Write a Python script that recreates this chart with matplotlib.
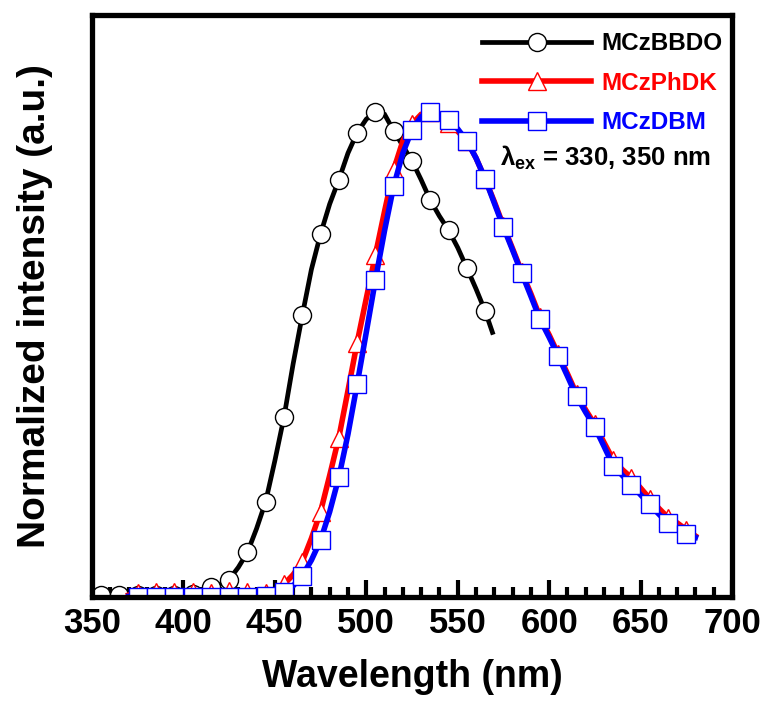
import numpy as np
import matplotlib
matplotlib.use("Agg")
import matplotlib.pyplot as plt

plt.rcParams['font.family'] = ['Liberation Sans', 'DejaVu Sans']
plt.rcParams['font.weight'] = 'bold'
plt.rcParams['mathtext.fontset'] = 'custom'
plt.rcParams['mathtext.rm'] = 'Liberation Sans:bold'
plt.rcParams['mathtext.bf'] = 'Liberation Sans:bold'
plt.rcParams['mathtext.default'] = 'bf'

# ---- data ----
labels = ["MCzBBDO", "MCzPhDK", "MCzDBM"]
colors = ["black", "red", "blue"]

bbdo_wl = [350, 355, 360, 365, 370, 375, 380, 385, 390, 395, 400, 405, 410, 415,
           420, 425, 430, 435, 440, 445, 450, 455, 460, 465, 470, 475, 480, 485,
           490, 495, 500, 505, 510, 515, 520, 525, 530, 535, 540, 545, 550, 555,
           560, 565, 569]
bbdo_int = [0.005, 0.004, 0.004, 0.004, 0.003, 0.003, 0.004, 0.003, 0.004, 0.003,
            0.005, 0.005, 0.010, 0.019, 0.025, 0.035, 0.060, 0.091, 0.140, 0.196,
            0.280, 0.370, 0.480, 0.580, 0.675, 0.748, 0.810, 0.860, 0.915, 0.957,
            0.985, 1.000, 0.995, 0.961, 0.930, 0.899, 0.860, 0.818, 0.785, 0.756,
            0.720, 0.678, 0.635, 0.589, 0.545]
bbdo_marks = [355, 365, 375, 385, 395, 405, 415, 425, 435, 445, 455, 465, 475,
              485, 495, 505, 515, 525, 535, 545, 555, 565]

dbm_wl = [370, 375, 380, 385, 390, 395, 400, 405, 410, 415, 420, 425, 430, 435,
          440, 445, 450, 455, 460, 465, 470, 475, 480, 485, 490, 495, 500, 505,
          510, 515, 520, 525, 530, 535, 540, 545, 550, 555, 560, 565, 570, 575,
          580, 585, 590, 595, 600, 605, 610, 615, 620, 625, 630, 635, 640, 645,
          650, 655, 660, 665, 670, 675, 680]
dbm_int = [0.000, 0.000, 0.000, 0.000, 0.000, 0.000, 0.000, -0.002, 0.000, 0.000,
           0.000, 0.000, 0.000, 0.000, 0.001, 0.002, 0.005, 0.010, 0.022, 0.043,
           0.075, 0.116, 0.175, 0.246, 0.335, 0.438, 0.545, 0.653, 0.755, 0.847,
           0.915, 0.963, 0.990, 1.000, 0.995, 0.983, 0.965, 0.940, 0.905, 0.862,
           0.812, 0.762, 0.715, 0.667, 0.620, 0.572, 0.535, 0.496, 0.455, 0.413,
           0.380, 0.349, 0.310, 0.270, 0.250, 0.231, 0.210, 0.190, 0.170, 0.151,
           0.140, 0.128, 0.122]

phdk_wl = dbm_wl
phdk_int = [0.003, 0.008, 0.002, 0.010, 0.003, 0.009, 0.002, 0.010, 0.003, 0.008,
            0.002, 0.011, 0.003, 0.009, 0.004, 0.008, 0.012, 0.025, 0.045, 0.072,
            0.120, 0.175, 0.250, 0.328, 0.425, 0.524, 0.615, 0.705, 0.795, 0.881,
            0.940, 0.975, 0.995, 1.000, 0.990, 0.978, 0.960, 0.940, 0.905, 0.862,
            0.815, 0.765, 0.718, 0.670, 0.625, 0.577, 0.540, 0.500, 0.460, 0.418,
            0.385, 0.355, 0.318, 0.282, 0.262, 0.245, 0.224, 0.202, 0.182, 0.163,
            0.152, 0.138, 0.125]

dbm_marks = list(range(375, 680, 10))
phdk_marks = dbm_marks

xticks = [350, 400, 450, 500, 550, 600, 650, 700]

# ---- figure ----
fig = plt.figure(figsize=(7.71, 7.04), dpi=100)
ax = fig.add_axes([0.1193, 0.152, 0.8301, 0.8267])

series = [
    (bbdo_wl, bbdo_int, bbdo_marks, 'o', 3.4),
    (phdk_wl, phdk_int, phdk_marks, '^', 4.0),
    (dbm_wl, dbm_int, dbm_marks, 's', 4.0),
]
for (wl, it, mk, m, lw), lab, c in zip(series, labels, colors):
    idx = [i for i, w in enumerate(wl) if w in mk]
    ax.plot(wl, it, color=c, lw=lw, marker=m, markevery=idx,
            markersize=13, markerfacecolor='white', markeredgecolor=c,
            markeredgewidth=1.0, label=lab, solid_joinstyle='miter')

ax.set_xlim(350, 700)
ax.set_ylim(-0.001, 1.20)
ax.set_xticks(xticks)
ax.set_xticks(np.arange(350, 701, 10), minor=True)
ax.set_yticks([])
ax.tick_params(axis='x', which='major', direction='in', length=12, width=3,
               labelsize=25, pad=7, top=False)
ax.tick_params(axis='x', which='minor', direction='in', length=7, width=3,
               top=False)
for lab in ax.get_xticklabels():
    lab.set_fontweight('bold')
for s in ax.spines.values():
    s.set_linewidth(3.8)

ax.set_xlabel("Wavelength (nm)", fontsize=27, fontweight='bold', labelpad=14)
ax.set_ylabel("Normalized intensity (a.u.)", fontsize=28, fontweight='bold',
              labelpad=28)

leg = ax.legend(loc='upper right', bbox_to_anchor=(1.0, 0.987), frameon=False,
                prop={'weight': 'bold', 'size': 17.5}, handlelength=4.5,
                handletextpad=0.4, labelspacing=0.68, borderaxespad=0)
for t, c in zip(leg.get_texts(), colors):
    t.set_color(c)

ax.text(0.6375, 0.754, r"λ$_{\mathbf{ex}}$ = 330, 350 nm", transform=ax.transAxes,
        fontsize=18.5, fontweight='bold', va='center', ha='left')

fig.savefig("out.png", dpi=100)
